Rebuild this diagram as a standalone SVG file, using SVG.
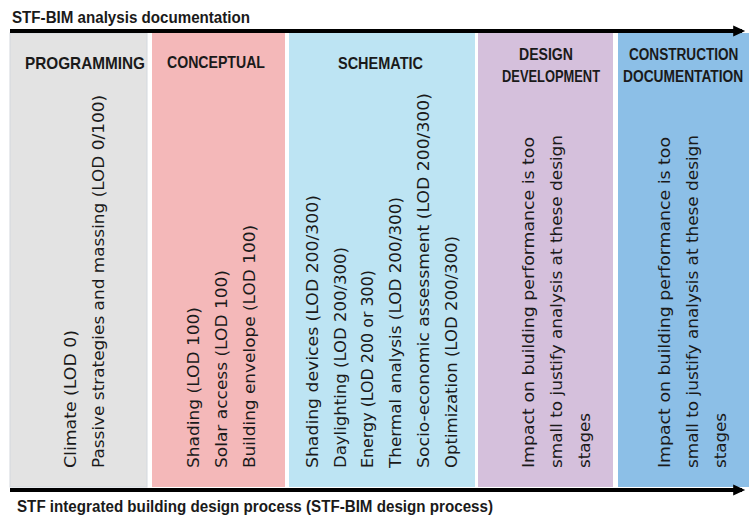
<svg xmlns="http://www.w3.org/2000/svg" width="749" height="518" viewBox="0 0 749 518">
<style>
.hd{font-family:"Liberation Sans",Arial,sans-serif;font-weight:bold;font-size:17px;fill:#1a1a1a}
.tt{font-family:"Liberation Sans",Arial,sans-serif;font-weight:bold;font-size:16px;fill:#1a1a1a}
.bd{font-family:"DejaVu Sans","Liberation Sans",sans-serif;font-size:16px;fill:#1a1a1a}
.ln{stroke:#000;stroke-width:4;fill:none}
</style>
<defs>
<marker id="ah" markerWidth="4" markerHeight="4" refX="2.2" refY="2" orient="auto" markerUnits="strokeWidth">
<path d="M0,0.6 L3,2 L0,3.4 z" fill="#000"/>
</marker>
</defs>
<rect width="749" height="518" fill="#fff"/>
<text class="tt" x="12" y="23" textLength="238" lengthAdjust="spacingAndGlyphs">STF-BIM analysis documentation</text>
<text class="tt" x="17" y="512" textLength="476" lengthAdjust="spacingAndGlyphs">STF integrated building design process (STF-BIM design process)</text>

<g id="programming">
<rect x="10" y="33" width="137" height="454" fill="#e3e3e3" stroke="#d3d8de" stroke-width="1"/>
<text class="hd" x="25" y="69" textLength="120" lengthAdjust="spacingAndGlyphs">PROGRAMMING</text>
<text class="bd" transform="translate(76,468) rotate(-90)" textLength="138" lengthAdjust="spacingAndGlyphs">Climate (LOD 0)</text>
<text class="bd" transform="translate(104,468) rotate(-90)" textLength="373" lengthAdjust="spacingAndGlyphs">Passive strategies and massing (LOD 0/100)</text>
</g>

<g id="conceptual">
<rect x="152" y="33" width="133" height="454" fill="#f4b8b9"/>
<text class="hd" x="167" y="68" textLength="98" lengthAdjust="spacingAndGlyphs">CONCEPTUAL</text>
<text class="bd" transform="translate(199,468) rotate(-90)" textLength="161" lengthAdjust="spacingAndGlyphs">Shading (LOD 100)</text>
<text class="bd" transform="translate(227,468) rotate(-90)" textLength="198" lengthAdjust="spacingAndGlyphs">Solar access (LOD 100)</text>
<text class="bd" transform="translate(255,468) rotate(-90)" textLength="243" lengthAdjust="spacingAndGlyphs">Building envelope (LOD 100)</text>
</g>

<g id="schematic">
<rect x="289" y="33" width="186" height="454" fill="#bde4f3"/>
<text class="hd" x="338" y="69" textLength="85" lengthAdjust="spacingAndGlyphs">SCHEMATIC</text>
<text class="bd" transform="translate(318,468) rotate(-90)" textLength="273" lengthAdjust="spacingAndGlyphs">Shading devices (LOD 200/300)</text>
<text class="bd" transform="translate(346,468) rotate(-90)" textLength="221" lengthAdjust="spacingAndGlyphs">Daylighting (LOD 200/300)</text>
<text class="bd" transform="translate(373,468) rotate(-90)" textLength="198" lengthAdjust="spacingAndGlyphs">Energy (LOD 200 or 300)</text>
<text class="bd" transform="translate(401,468) rotate(-90)" textLength="271" lengthAdjust="spacingAndGlyphs">Thermal analysis (LOD 200/300)</text>
<text class="bd" transform="translate(429,468) rotate(-90)" textLength="375" lengthAdjust="spacingAndGlyphs">Socio-economic assessment (LOD 200/300)</text>
<text class="bd" transform="translate(457,468) rotate(-90)" textLength="232" lengthAdjust="spacingAndGlyphs">Optimization (LOD 200/300)</text>
</g>

<g id="design-development">
<rect x="478" y="33" width="135" height="454" fill="#d5c0dc"/>
<text class="hd" x="519" y="60" textLength="54" lengthAdjust="spacingAndGlyphs">DESIGN</text>
<text class="hd" x="502" y="82" textLength="98" lengthAdjust="spacingAndGlyphs">DEVELOPMENT</text>
<text class="bd" transform="translate(534,468) rotate(-90)" textLength="331" lengthAdjust="spacingAndGlyphs">Impact on building performance is too</text>
<text class="bd" transform="translate(562,468) rotate(-90)" textLength="333" lengthAdjust="spacingAndGlyphs">small to justify analysis at these design</text>
<text class="bd" transform="translate(590,468) rotate(-90)" textLength="55" lengthAdjust="spacingAndGlyphs">stages</text>
</g>

<g id="construction-documentation">
<rect x="618" y="33" width="131" height="454" fill="#8cbfe7"/>
<text class="hd" transform="translate(629,60) scale(0.8,1)">CONSTRUCTION</text>
<text class="hd" transform="translate(623,82) scale(0.81,1)">DOCUMENTATION</text>
<text class="bd" transform="translate(670,468) rotate(-90)" textLength="331" lengthAdjust="spacingAndGlyphs">Impact on building performance is too</text>
<text class="bd" transform="translate(698,468) rotate(-90)" textLength="333" lengthAdjust="spacingAndGlyphs">small to justify analysis at these design</text>
<text class="bd" transform="translate(726,468) rotate(-90)" textLength="55" lengthAdjust="spacingAndGlyphs">stages</text>
</g>

<g id="connectors">
<line class="ln" x1="10" y1="31" x2="742" y2="31" marker-end="url(#ah)"/>
<line class="ln" x1="10" y1="490" x2="742" y2="490" marker-end="url(#ah)"/>
</g>
</svg>
